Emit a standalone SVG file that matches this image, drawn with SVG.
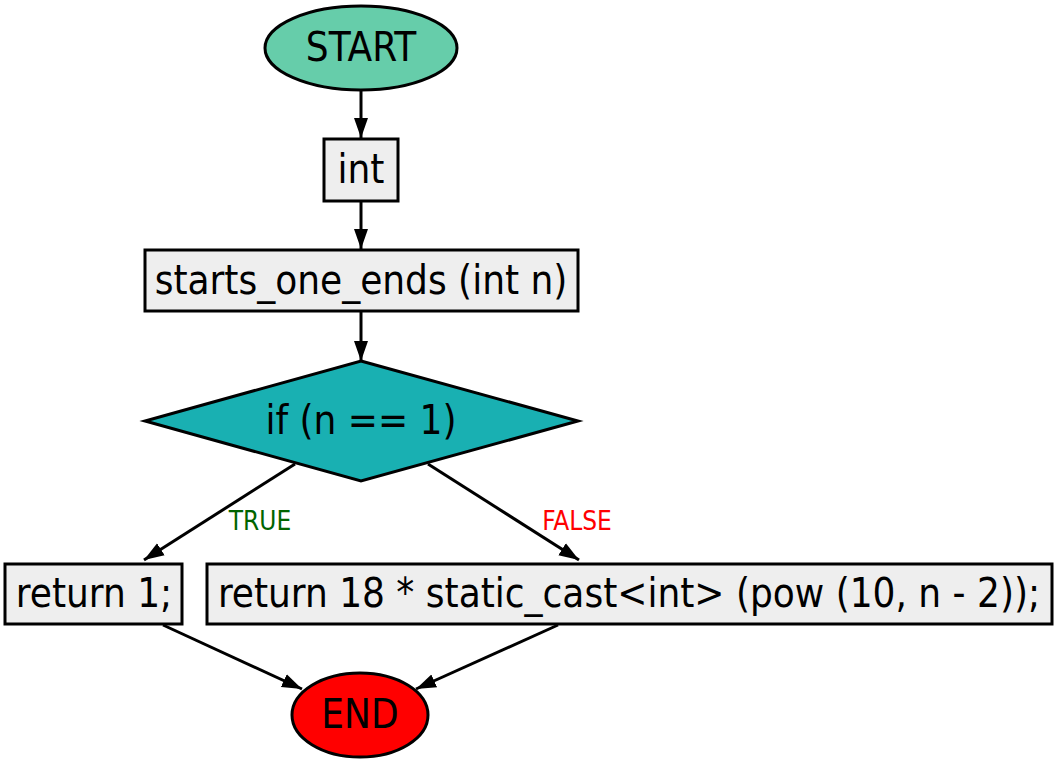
<svg xmlns="http://www.w3.org/2000/svg" width="1058" height="764" viewBox="0 0 1058 764">
<defs>
<marker id="arr" markerWidth="20" markerHeight="16" refX="20" refY="8" orient="auto" markerUnits="userSpaceOnUse" viewBox="0 0 20 16">
<path d="M0,1 L20,8 L0,15 z" fill="#000"/>
</marker>
</defs>
<style>
text{font-family:"DejaVu Sans Condensed","DejaVu Sans",sans-serif;text-anchor:middle;dominant-baseline:central}
.n{font-size:40px;fill:#000}
.box{fill:#eeeeee;stroke:#000;stroke-width:3}
.e{stroke:#000;stroke-width:3;fill:none;marker-end:url(#arr)}
.lbl{font-size:26px}
</style>
<rect width="1058" height="764" fill="#fff"/>
<g id="connectors">
<line class="e" x1="361" y1="91" x2="361" y2="138"/>
<line class="e" x1="361" y1="202" x2="361" y2="249"/>
<line class="e" x1="361" y1="312" x2="361" y2="361"/>
<line class="e" x1="295" y1="464" x2="144" y2="560"/>
<line class="e" x1="428" y1="464" x2="579" y2="560"/>
<line class="e" x1="163" y1="625" x2="302" y2="689"/>
<line class="e" x1="558" y1="625" x2="416" y2="689"/>
<text class="lbl" x="260" y="521" fill="#006400">TRUE</text>
<text class="lbl" x="577" y="521" fill="#ff0000">FALSE</text>
</g>
<g id="start">
<ellipse cx="361" cy="48" rx="96" ry="42" fill="#66cdaa" stroke="#000" stroke-width="3"/>
<text class="n" x="361" y="47">START</text>
</g>
<g id="int">
<rect class="box" x="324" y="139" width="74" height="62"/>
<text class="n" x="361" y="169">int</text>
</g>
<g id="func">
<rect class="box" x="145" y="250" width="433" height="61"/>
<text class="n" x="361" y="280">starts_one_ends (int n)</text>
</g>
<g id="cond">
<polygon points="361,361 578,421 361,481 145,421" fill="#19b0b2" stroke="#000" stroke-width="3"/>
<text class="n" x="361" y="420">if (n == 1)</text>
</g>
<g id="ret1">
<rect class="box" x="5" y="564" width="177" height="60"/>
<text class="n" x="94" y="593">return 1;</text>
</g>
<g id="ret2">
<rect class="box" x="207" y="564" width="845" height="60"/>
<text class="n" x="629" y="593">return 18 * static_cast&lt;int&gt; (pow (10, n - 2));</text>
</g>
<g id="end">
<ellipse cx="360" cy="715" rx="68" ry="42" fill="#ff0000" stroke="#000" stroke-width="3"/>
<text class="n" x="360" y="714">END</text>
</g>
</svg>
